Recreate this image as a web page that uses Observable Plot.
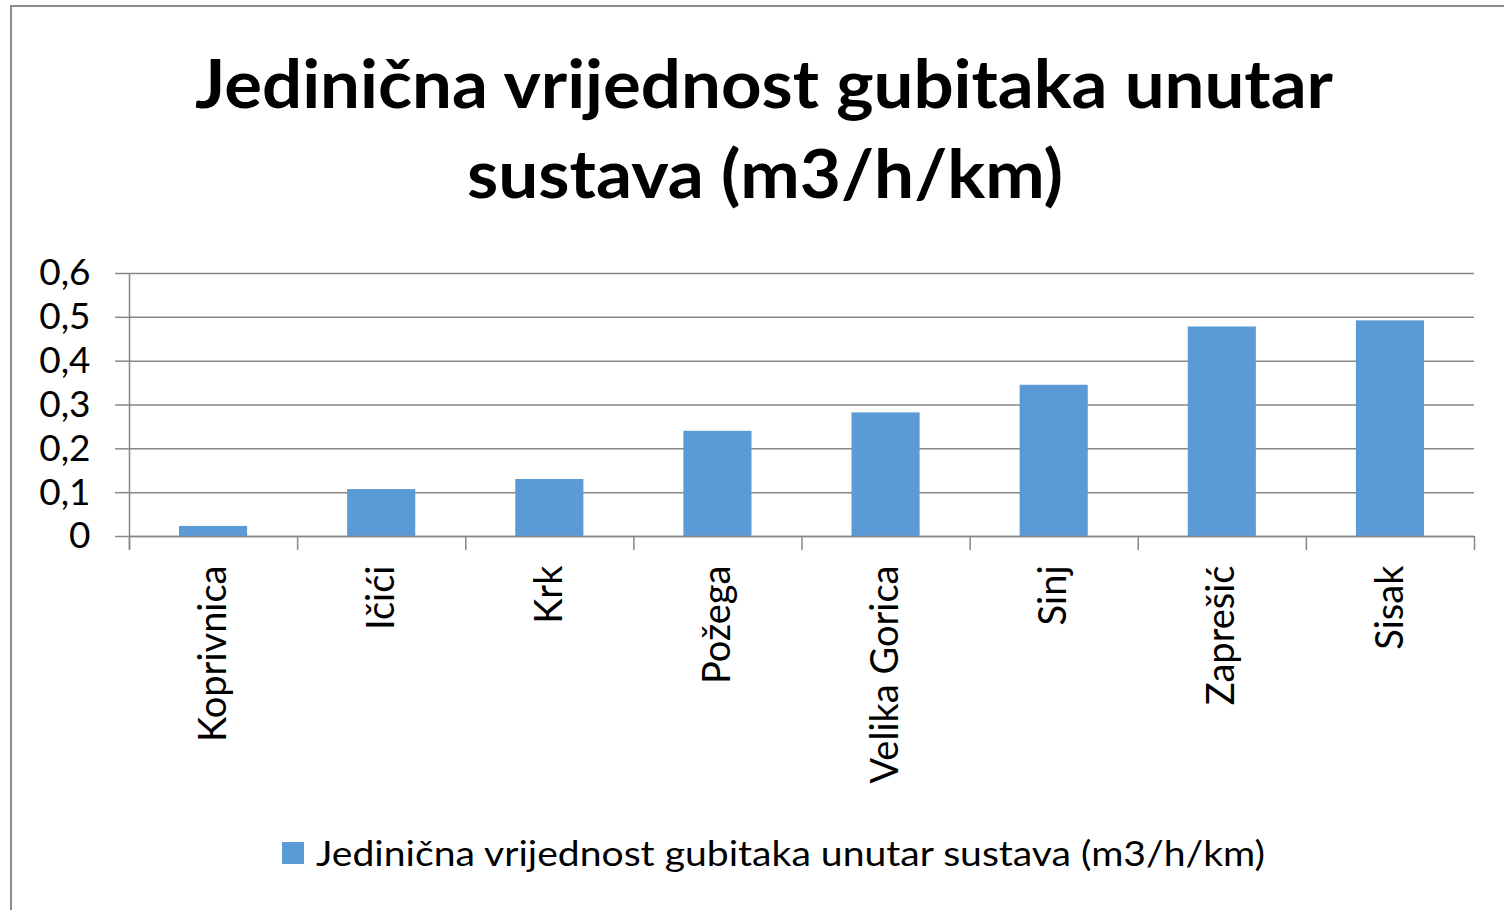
<!DOCTYPE html>
<html>
<head>
<meta charset="utf-8">
<script src="https://cdn.jsdelivr.net/npm/d3@7"></script>
<script src="https://cdn.jsdelivr.net/npm/@observablehq/plot@0.6"></script>
<style>
  html, body { margin: 0; padding: 0; background: #fff; }
  #page { position: relative; width: 1504px; height: 910px; overflow: hidden; background: #fff; font-family: Lato, "Noto Sans", sans-serif; }
  #frame { position: absolute; left: 10px; top: 5px; width: 1510px; height: 930px; border: 2px solid #8c8c8c; box-sizing: border-box; }
  #chart { position: absolute; left: 0; top: 250px; }
  #overlay { position: absolute; left: 0; top: 0; }
</style>
</head>
<body>
<div id="page">
  <div id="frame"></div>
  <div id="chart"></div>
  <svg id="overlay" width="1504" height="910"></svg>
</div>
<script>
const categories = ["Koprivnica", "Ičići", "Krk", "Požega", "Velika Gorica", "Sinj", "Zaprešić", "Sisak"];
const values = [0.023, 0.107, 0.13, 0.24, 0.282, 0.345, 0.478, 0.492];
const yTicks = [0, 0.1, 0.2, 0.3, 0.4, 0.5, 0.6];
const titleLines = ["Jedinična vrijednost gubitaka unutar", "sustava (m3/h/km)"];
const seriesName = "Jedinična vrijednost gubitaka unutar sustava (m3/h/km)";

const data = categories.map((name, i) => ({name, value: values[i], i}));
const bounds = d3.range(categories.length + 1);
const barColor = "#5B9BD5";
const gray = "#878787";
const font = "Lato, 'Noto Sans', sans-serif";

const chart = Plot.plot({
  width: 1504,
  height: 560,
  marginLeft: 129,
  marginRight: 30,
  marginTop: 23,
  marginBottom: 274,
  style: {fontFamily: font, background: "transparent", overflow: "visible"},
  x: {type: "linear", domain: [0, categories.length], axis: null},
  y: {domain: [0, 0.6], axis: null},
  marks: [
    Plot.ruleY(yTicks, {stroke: gray, strokeWidth: 1.5}),
    Plot.axisY({
      ticks: yTicks,
      tickSize: 14,
      tickPadding: 25,
      stroke: gray,
      strokeWidth: 1.5,
      fontSize: 37,
      fill: "#000",
      label: null,
      tickFormat: d => d === 0 ? "0" : d.toFixed(1).replace(".", ",")
    }),
    Plot.rectY(data, {x1: "i", x2: d => d.i + 1, y: "value", insetLeft: 50, insetRight: 50, fill: barColor}),
    Plot.ruleX(bounds, {y1: 0, y2: -0.032, stroke: gray, strokeWidth: 1.5}),
    Plot.ruleX([0], {y1: -0.032, y2: 0.6, stroke: gray, strokeWidth: 1.5}),
    Plot.ruleY([0], {stroke: gray, strokeWidth: 1.5}),
    Plot.text(data, {x: d => d.i + 0.5, y: 0, text: "name", rotate: -90, textAnchor: "end", dy: 29, fontSize: 38, fill: "#000"})
  ]
});
document.getElementById("chart").appendChild(chart);

const ov = d3.select("#overlay");
ov.append("text").attr("x", 764).attr("y", 108).attr("text-anchor", "middle")
  .attr("font-family", font).attr("font-weight", 700).attr("font-size", 66)
  .attr("textLength", 1138).attr("lengthAdjust", "spacingAndGlyphs").text(titleLines[0]);
ov.append("text").attr("x", 765).attr("y", 198).attr("text-anchor", "middle")
  .attr("font-family", font).attr("font-weight", 700).attr("font-size", 66)
  .attr("textLength", 596).attr("lengthAdjust", "spacingAndGlyphs").text(titleLines[1]);
ov.append("rect").attr("x", 282).attr("y", 842).attr("width", 22).attr("height", 22).attr("fill", barColor);
ov.append("text").attr("x", 316).attr("y", 866)
  .attr("font-family", font).attr("font-size", 35)
  .attr("textLength", 949).attr("lengthAdjust", "spacingAndGlyphs").text(seriesName);
</script>
</body>
</html>
